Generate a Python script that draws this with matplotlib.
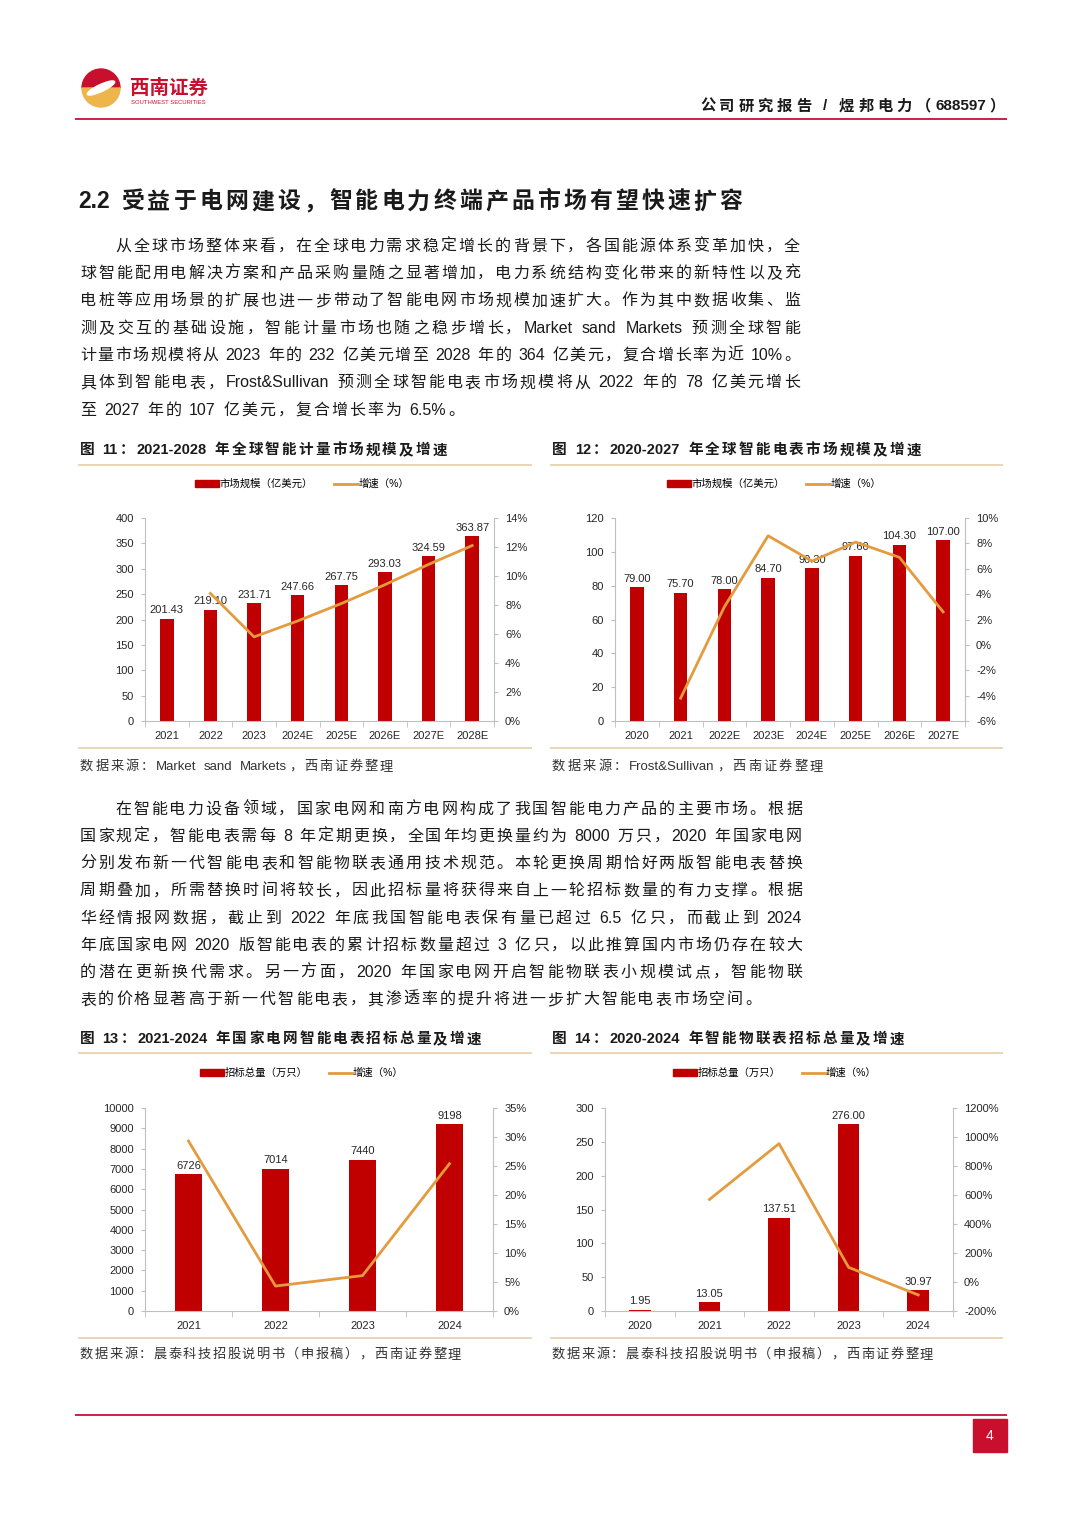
import re

import matplotlib.pyplot as plt
import matplotlib.patches as mpatches
from matplotlib.lines import Line2D
import numpy as np

W, H = 1080, 1528
RED = '#C00000'
HEAD_RED = '#C8102E'
ORANGE = '#E49B3E'
TAN = '#E5CB9F'
GREY = '#BFBFBF'
INK = '#1a1a1a'

plt.rcParams['font.family'] = ['Liberation Sans', 'Noto Sans CJK SC']

# fig 11: global smart metering market
mkt_years = ['2021', '2022', '2023', '2024E', '2025E', '2026E', '2027E', '2028E']
mkt_size = [201.43, 219.10, 231.71, 247.66, 267.75, 293.03, 324.59, 363.87]
mkt_growth = [np.nan, 8.8, 5.8, 6.9, 8.1, 9.4, 10.8, 12.1]

# fig 12: global smart meter market
meter_years = ['2020', '2021', '2022E', '2023E', '2024E', '2025E', '2026E', '2027E']
meter_size = [79.00, 75.70, 78.00, 84.70, 90.30, 97.60, 104.30, 107.00]
meter_growth = [np.nan, -4.2, 3.0, 8.6, 6.6, 8.1, 6.9, 2.6]

# fig 13: state grid smart meter tenders
bid_years = ['2021', '2022', '2023', '2024']
bid_total = [6726, 7014, 7440, 9198]
bid_growth = [29.3, 4.3, 6.1, 25.4]

# fig 14: IoT meter tenders
iot_years = ['2020', '2021', '2022', '2023', '2024']
iot_total = [1.95, 13.05, 137.51, 276.00, 30.97]
iot_growth = [np.nan, 569, 954, 101, -89]

para1 = [
    '从全球市场整体来看，在全球电力需求稳定增长的背景下，各国能源体系变革加快，全',
    '球智能配用电解决方案和产品采购量随之显著增加，电力系统结构变化带来的新特性以及充',
    '电桩等应用场景的扩展也进一步带动了智能电网市场规模加速扩大。作为其中数据收集、监',
    '测及交互的基础设施，智能计量市场也随之稳步增长，Market sand Markets 预测全球智能',
    '计量市场规模将从 2023 年的 232 亿美元增至 2028 年的 364 亿美元，复合增长率为近 10%。',
    '具体到智能电表，Frost&Sullivan 预测全球智能电表市场规模将从 2022 年的 78 亿美元增长',
    '至 2027 年的 107 亿美元，复合增长率为 6.5%。',
]
para2 = [
    '在智能电力设备领域，国家电网和南方电网构成了我国智能电力产品的主要市场。根据',
    '国家规定，智能电表需每 8 年定期更换，全国年均更换量约为 8000 万只，2020 年国家电网',
    '分别发布新一代智能电表和智能物联表通用技术规范。本轮更换周期恰好两版智能电表替换',
    '周期叠加，所需替换时间将较长，因此招标量将获得来自上一轮招标数量的有力支撑。根据',
    '华经情报网数据，截止到 2022 年底我国智能电表保有量已超过 6.5 亿只，而截止到 2024',
    '年底国家电网 2020 版智能电表的累计招标数量超过 3 亿只，以此推算国内市场仍存在较大',
    '的潜在更新换代需求。另一方面，2020 年国家电网开启智能物联表小规模试点，智能物联',
    '表的价格显著高于新一代智能电表，其渗透率的提升将进一步扩大智能电表市场空间。',
]

fig = plt.figure(figsize=(W / 100, H / 100), dpi=100)
renderer = fig.canvas.get_renderer()

# background axes in page pixels (y down)
bg = fig.add_axes([0, 0, 1, 1])
bg.set_xlim(0, W)
bg.set_ylim(H, 0)
bg.axis('off')


def put_line(s, x0, y, x1=None, size=11.5, weight='normal', color=INK, gap=2.0):
    """Place a line token by token; if x1 is given, spread the spare room evenly."""
    em = size * 100 / 72
    kw = dict(fontsize=size, fontweight=weight, color=color, va='baseline')
    items = []
    for tk in re.findall(r'[\x21-\x7e]+| |.', s):
        if tk == ' ':
            items.append((tk, em * 0.25, None))
        elif tk.isascii():
            t = bg.text(0, 0, tk, ha='left', **kw)
            items.append((tk, t.get_window_extent(renderer).width, t))
        else:
            items.append((tk, em, None))
    total = sum(w for _, w, _ in items)
    if x1 is not None and len(items) > 1:
        gap = (x1 - x0 - total) / (len(items) - 1)
    base = y + em * 0.36
    x = x0
    for tk, w, t in items:
        if t is not None:
            t.set_position((x, base))
        elif tk != ' ':
            if tk in '，。、：；）':
                bg.text(x, base, tk, ha='left', **kw)
            elif tk == '（':
                bg.text(x + w, base, tk, ha='right', **kw)
            else:
                bg.text(x + w / 2, base, tk, ha='center', **kw)
        x += w + gap


def hline(y, x0, x1, color, lw=1.1):
    bg.plot([x0, x1], [y, y], color=color, lw=lw, solid_capstyle='butt')


# header
bg.add_patch(mpatches.Wedge((101, 88), 19, 180, 360, color=HEAD_RED))
bg.add_patch(mpatches.Wedge((101, 88), 19, 0, 180, color='#EDB54A'))
bg.add_patch(mpatches.Ellipse((101, 88), 30, 7, angle=-25, color='white'))
bg.text(130, 88, '西南证券', fontsize=14, fontweight='bold', color=HEAD_RED, va='center')
bg.text(131, 103, 'SOUTHWEST SECURITIES', fontsize=4.2, color=HEAD_RED, va='center')
put_line('公司研究报告 / 煜邦电力（688597）', 700, 105, x1=1005, size=11, weight='bold')
hline(119, 75, 1007, HEAD_RED, lw=1.3)

# title and body text
put_line('2.2 受益于电网建设，智能电力终端产品市场有望快速扩容', 78, 200, x1=742,
         size=16.5, weight='bold')
for i, s in enumerate(para1):
    x0 = 115 if i == 0 else 80
    x1 = None if i == len(para1) - 1 else 800
    put_line(s, x0, 245 + i * 27.3, x1=x1)
for i, s in enumerate(para2):
    x0 = 115 if i == 0 else 80
    x1 = None if i == len(para2) - 1 else 802
    put_line(s, x0, 808 + i * 27.2, x1=x1)

# captions, frame lines and sources
put_line('图 11：2021-2028 年全球智能计量市场规模及增速', 80, 449, x1=447, size=10.5, weight='bold')
put_line('图 12：2020-2027 年全球智能电表市场规模及增速', 552, 449, x1=921, size=10.5, weight='bold')
put_line('图 13：2021-2024 年国家电网智能电表招标总量及增速', 80, 1038, x1=481, size=10.5, weight='bold')
put_line('图 14：2020-2024 年智能物联表招标总量及增速', 552, 1038, x1=904, size=10.5, weight='bold')
for y in (465, 748, 1053, 1338):
    hline(y, 78, 532, TAN)
    hline(y, 550, 1003, TAN)
put_line('数据来源：Market sand Markets，西南证券整理', 80, 765, x1=393, size=9.5, color='#333333')
put_line('数据来源：Frost&Sullivan，西南证券整理', 552, 765, x1=823, size=9.5, color='#333333')
put_line('数据来源：晨泰科技招股说明书（申报稿），西南证券整理', 80, 1353, x1=461, size=9.5, color='#333333')
put_line('数据来源：晨泰科技招股说明书（申报稿），西南证券整理', 552, 1353, x1=933, size=9.5, color='#333333')

# footer
hline(1415, 75, 1007, HEAD_RED, lw=1.3)
bg.add_patch(mpatches.Rectangle((973, 1419), 34, 33, color=HEAD_RED))
bg.text(990, 1435.5, '4', color='white', fontsize=10, ha='center', va='center')


def bar_line(box, cats, bars, growth, ylim, ystep, rlim, rstep, fmt, bar_name, legend_xy):
    x0, y0, x1, y1 = box
    ax = fig.add_axes([x0 / W, 1 - y1 / H, (x1 - x0) / W, (y1 - y0) / H])
    x = np.arange(len(cats))
    ax.bar(x, bars, width=0.31, color=RED, zorder=2)
    for xi, v in zip(x, bars):
        ax.annotate(fmt.format(v), (xi, v), xytext=(0, 2.5), textcoords='offset points',
                    ha='center', va='bottom', fontsize=8, color='#262626')
    ax.set_xlim(-0.5, len(cats) - 0.5)
    ax.set_ylim(0, ylim)
    ax.set_yticks(np.arange(0, ylim + 1, ystep))
    ax.set_xticks(x, cats)
    ax.set_xticks(np.arange(-0.5, len(cats)), minor=True)
    ax.tick_params(axis='x', which='major', length=0, pad=7, labelsize=8, labelcolor='#262626')
    ax.tick_params(axis='x', which='minor', length=4, color=GREY)
    ax.tick_params(axis='y', length=3, pad=5, labelsize=8, color=GREY, labelcolor='#262626')
    for side in ('top', 'right'):
        ax.spines[side].set_visible(False)
    for side in ('left', 'bottom'):
        ax.spines[side].set_color(GREY)

    ax2 = ax.twinx()
    ax2.plot(x, growth, color=ORANGE, lw=2)
    ax2.set_ylim(*rlim)
    ax2.set_yticks(np.arange(rlim[0], rlim[1] + 0.1, rstep))
    ax2.yaxis.set_major_formatter(lambda v, p: f'{v:.0f}%')
    ax2.tick_params(axis='y', length=3, pad=5, labelsize=8, color=GREY, labelcolor='#262626')
    for side in ('top', 'left', 'bottom'):
        ax2.spines[side].set_visible(False)
    ax2.spines['right'].set_color(GREY)

    handles = [mpatches.Patch(color=RED, label=bar_name),
               Line2D([], [], color=ORANGE, lw=2, label='增速（%）')]
    fig.legend(handles=handles, loc='center', ncol=2, frameon=False, fontsize=7.5,
               bbox_to_anchor=(legend_xy[0] / W, 1 - legend_xy[1] / H),
               handlelength=2.3, handletextpad=0.05, columnspacing=2.0)


bar_line((145, 518, 494, 721), mkt_years, mkt_size, mkt_growth, 400, 50, (0, 14), 2,
         '{:.2f}', '市场规模（亿美元）', (302, 484))
bar_line((615, 518, 965, 721), meter_years, meter_size, meter_growth, 120, 20, (-6, 10), 2,
         '{:.2f}', '市场规模（亿美元）', (774, 484))
bar_line((145, 1108, 493, 1311), bid_years, bid_total, bid_growth, 10000, 1000, (0, 35), 5,
         '{:.0f}', '招标总量（万只）', (302, 1073))
bar_line((605, 1108, 953, 1311), iot_years, iot_total, iot_growth, 300, 50, (-200, 1200), 200,
         '{:.2f}', '招标总量（万只）', (775, 1073))

fig.savefig('out.png', dpi=100, facecolor='white')
